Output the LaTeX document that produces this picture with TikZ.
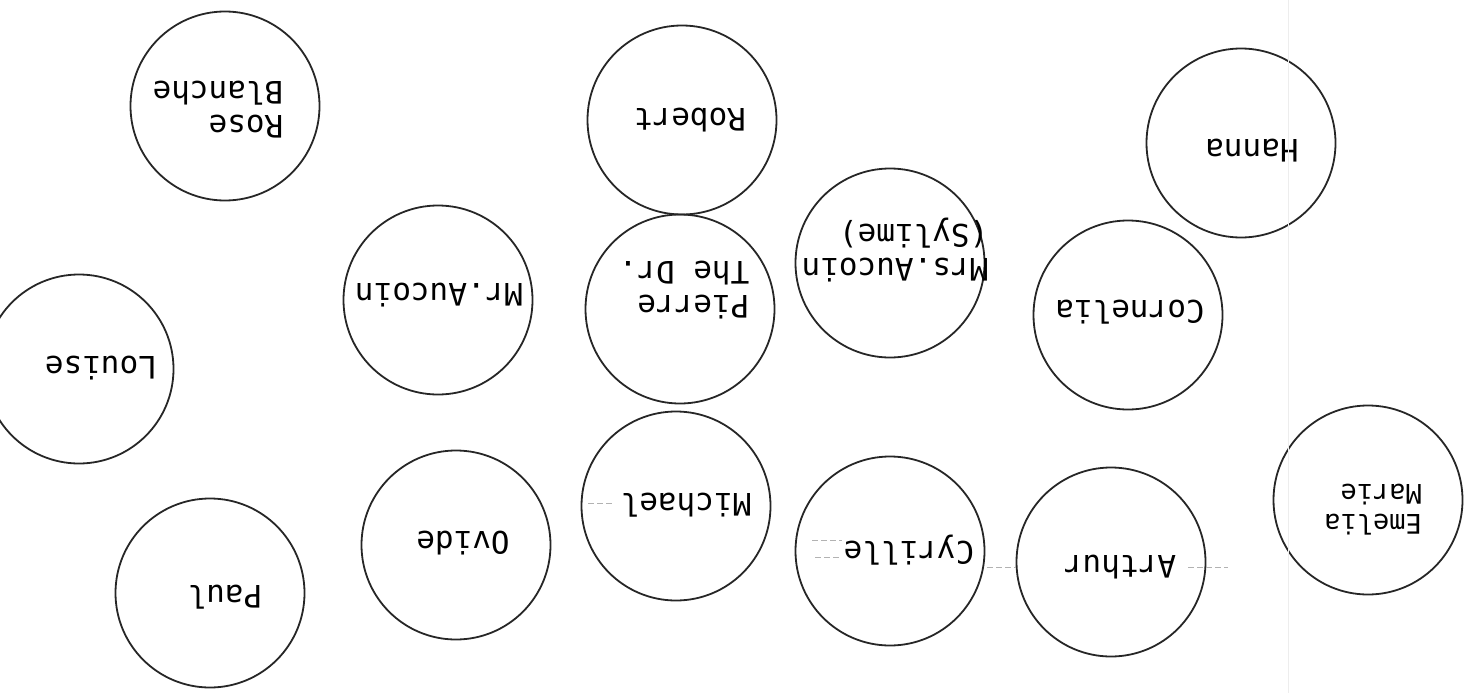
\documentclass[tikz,border=0pt]{standalone}
\usepackage{fontspec}
\setmonofont{DejaVu Sans Mono}
\usepackage{tikz}
\usetikzlibrary{positioning}

\begin{document}
\begin{tikzpicture}[x=1pt, y=-1pt,
  seat/.style={circle, draw=black!85, line width=1.8pt,
               minimum size=189pt, inner sep=0pt},
  who/.style={rotate=180, inner sep=0pt, align=left,
              font=\ttfamily\fontsize{31}{34}\selectfont},
  smudge/.style={black!30, line width=0.8pt, dash pattern=on 6pt off 3pt}]
\clip (0,0) rectangle (1470,693);
%
\node[seat] (rb)   at (225,106)  {};
\node[seat] (rob)  at (682,120)  {};
\node[seat] (han)  at (1241,143) {};
\node[seat] (mra)  at (438,300)  {};
\node[seat] (pd)   at (680,309)  {};
\node[seat] (mrsa) at (890,263)  {};
\node[seat] (cor)  at (1128,315) {};
\node[seat] (lou)  at (79,369)   {};
\node[seat] (paul) at (210,593)  {};
\node[seat] (ovi)  at (456,545)  {};
\node[seat] (mic)  at (676,506)  {};
\node[seat] (cyr)  at (890,551)  {};
\node[seat] (art)  at (1111,562) {};
\node[seat] (em)   at (1368,500) {};
%
\node[who] (rb-t)   at (218,110)  {Rose\\Blanche};
\node[who] (rob-t)  at (690,120)  {Robert};
\node[who] (han-t)  at (1252,151) {Hanna};
\node[who] (mra-t)  at (439,295)  {Mr.Aucoin};
\node[who] (pd-t)   at (684,290)  {Pierre\\The Dr.};
\node[who] (mrsa-t) at (895,250)  {Mrs.Aucoin\\(Sylime)};
\node[who] (cor-t)  at (1130,312) {Cornelia};
\node[who] (lou-t)  at (101,368)  {Louise};
\node[who] (paul-t) at (225,597)  {Paul};
\node[who] (ovi-t)  at (463,543)  {Ovide};
\node[who] (mic-t)  at (686,505)  {Michael};
\node[who] (cyr-t)  at (909,550)  {Cyrille};
\node[who] (art-t)  at (1120,567) {Arthur};
\node[who, font=\ttfamily\fontsize{27}{30}\selectfont]
           (em-t)   at (1373,510) {Emelia\\Marie};
%
\draw[smudge] (588,503) -- (612,503);
\draw[smudge] (812,540) -- (842,540);
\draw[smudge] (815,557) -- (840,557);
\draw[smudge] (987,567) -- (1016,567);
\draw[smudge] (1188,567) -- (1228,567);
\draw[black!7, line width=1pt] (1288,0) -- (1288,693);
%
\end{tikzpicture}
\end{document}
